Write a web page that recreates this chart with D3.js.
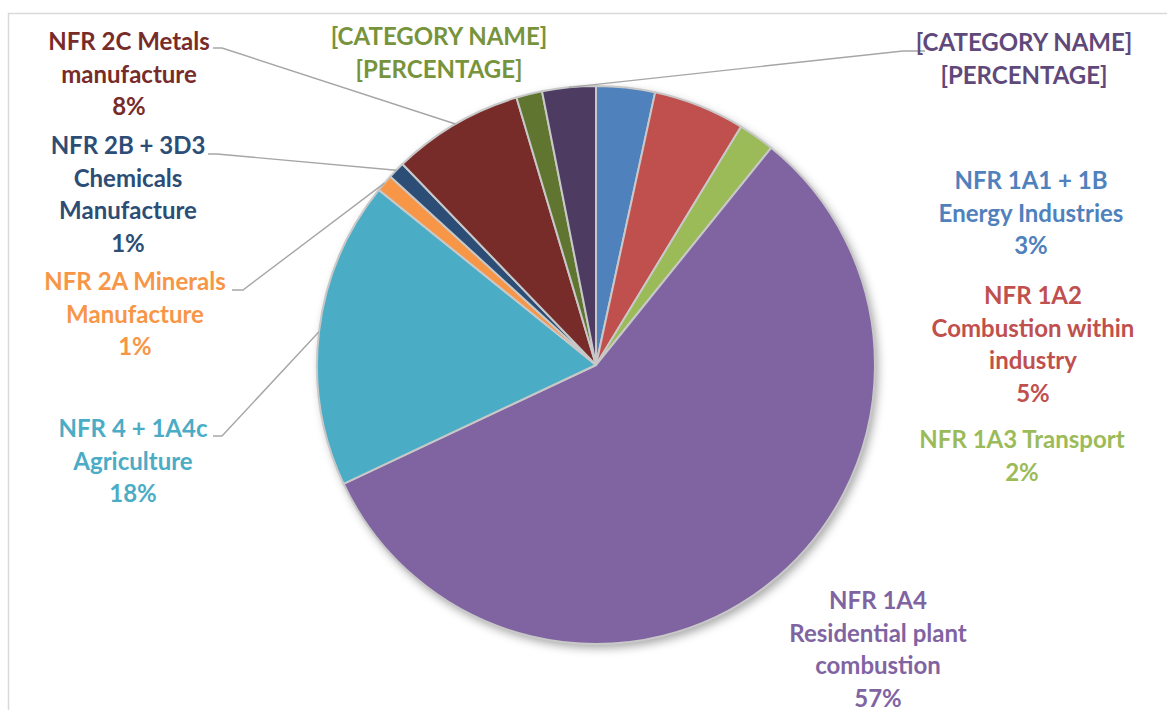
<!DOCTYPE html>
<html>
<head>
<meta charset="utf-8">
<script src="https://cdn.jsdelivr.net/npm/d3@7"></script>
<style>
	html, body { margin: 0; padding: 0; background: #fff; }
	svg { display: block; }
	.label text { font-family: Lato, "Open Sans", sans-serif; font-weight: 700; }
</style>
</head>
<body>
<svg class="chart" width="1167" height="710"></svg>
<script>
// slices clockwise from 12 o'clock
var categories = [
	['NFR 1A1 + 1B', 'Energy Industries'],
	['NFR 1A2', 'Combustion within', 'industry'],
	['NFR 1A3 Transport'],
	['NFR 1A4', 'Residential plant', 'combustion'],
	['NFR 4 + 1A4c', 'Agriculture'],
	['NFR 2A Minerals', 'Manufacture'],
	['NFR 2B + 3D3', 'Chemicals', 'Manufacture'],
	['NFR 2C Metals', 'manufacture'],
	['[CATEGORY NAME]'],
	['[CATEGORY NAME]']
];
var values = [3.4, 5.3, 2.1, 57.2, 17.8, 1.0, 1.0, 7.6, 1.5, 3.1];
// the two unnamed slices keep excel's placeholder text
var percentText = [null, null, null, null, null, null, null, null, '[PERCENTAGE]', '[PERCENTAGE]'];

var sliceColors = ['#4F81BD', '#C0504D', '#9BBB59', '#8064A2', '#4BACC6', '#F79646', '#2C4D75', '#772C2A', '#5F7530', '#4D3B62'];
var textColors = ['#4F81BD', '#C0504D', '#9BBB59', '#8064A2', '#4BACC6', '#F79646', '#2C4D75', '#772C2A', '#77933C', '#5F497A'];

// where the labels were dragged to (center of first line) + leader elbow, if any
var labelLayout = [
	{x: 1031, y: 181},
	{x: 1033, y: 296},
	{x: 1022, y: 440},
	{x: 878, y: 601},
	{x: 133, y: 429, elbow: [222, 436], end: 213},
	{x: 135, y: 282, elbow: [243, 290], end: 232},
	{x: 128, y: 146, elbow: [217, 154], end: 208},
	{x: 129, y: 42, elbow: [222, 48], end: 213},
	{x: 439, y: 37},
	{x: 1024, y: 43, elbow: [903, 51], end: 925}
];

var width = 1167,
	height = 710,
	cx = 596,
	cy = 365,
	radius = 279,
	lineHeight = 32.5,
	fontSize = 24;

var svg = d3.select('svg.chart');

// chart area frame, runs off the right and bottom edges like the screenshot
svg.append('rect')
	.attr('x', 8.5)
	.attr('y', 13.5)
	.attr('width', width + 50)
	.attr('height', height + 50)
	.attr('fill', '#fff')
	.attr('stroke', '#D9D9D9')
	.attr('stroke-width', 1.5);

var defs = svg.append('defs');
var shadow = defs.append('filter')
	.attr('id', 'pieShadow')
	.attr('x', '-20%').attr('y', '-20%')
	.attr('width', '140%').attr('height', '140%');
shadow.append('feDropShadow')
	.attr('dx', 3)
	.attr('dy', 4)
	.attr('stdDeviation', 5)
	.attr('flood-color', '#000')
	.attr('flood-opacity', 0.35);

var total = d3.sum(values);
var data = values.map(function(v, i) {
	return {
		lines: categories[i],
		value: v,
		percent: percentText[i] || (Math.round(v / total * 100) + '%'),
		color: sliceColors[i],
		textColor: textColors[i],
		layout: labelLayout[i]
	};
});

var pie = d3.pie()
	.sort(null)
	.value(function(d) { return d.value; });

var arc = d3.arc()
	.innerRadius(0)
	.outerRadius(radius);

var arcs = pie(data);

var pieG = svg.append('g')
	.attr('transform', 'translate(' + cx + ',' + cy + ')');

// shadow under the whole disc
pieG.append('circle')
	.attr('r', radius)
	.attr('fill', '#BFBFBF')
	.attr('filter', 'url(#pieShadow)');

pieG.selectAll('path.slice')
	.data(arcs)
	.enter().append('path')
	.classed('slice', true)
	.attr('d', arc)
	.attr('fill', function(d) { return d.data.color; })
	.attr('stroke', '#C8C8C8')
	.attr('stroke-width', 2)
	.attr('stroke-linejoin', 'round');

// leader lines, from the slice edge to the dragged label
var leaders = arcs.filter(function(d) { return d.data.layout.elbow; });
svg.append('g').selectAll('polyline')
	.data(leaders)
	.enter().append('polyline')
	.attr('points', function(d) {
		var mid = (d.startAngle + d.endAngle) / 2,
			px = cx + radius * Math.sin(mid),
			py = cy - radius * Math.cos(mid),
			l = d.data.layout;
		return [[px, py], l.elbow, [l.end, l.elbow[1]]].join(' ');
	})
	.attr('fill', 'none')
	.attr('stroke', '#A6A6A6')
	.attr('stroke-width', 1.4);

var labels = svg.append('g').selectAll('.label')
	.data(arcs)
	.enter().append('g')
	.classed('label', true)
	.attr('transform', function(d) {
		return 'translate(' + d.data.layout.x + ',' + d.data.layout.y + ')';
	});

labels.append('text')
	.attr('text-anchor', 'middle')
	.attr('font-size', fontSize)
	.attr('fill', function(d) { return d.data.textColor; })
	.selectAll('tspan')
	.data(function(d) { return d.data.lines.concat([d.data.percent]); })
	.enter().append('tspan')
	.attr('x', 0)
	.attr('y', function(t, i) { return i * lineHeight + fontSize * 0.35; })
	.text(function(t) { return t; });
</script>
</body>
</html>
